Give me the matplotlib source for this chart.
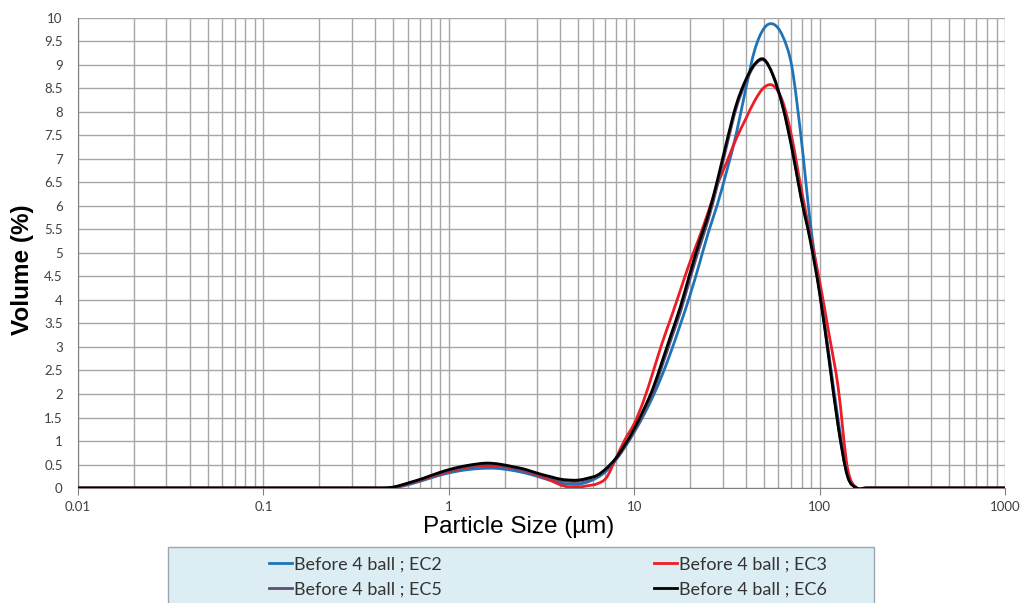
import numpy as np
import matplotlib.pyplot as plt
from matplotlib.path import Path
from matplotlib.patches import PathPatch, Rectangle
from matplotlib.lines import Line2D
from matplotlib.font_manager import FontProperties
from matplotlib.ticker import LogLocator, NullFormatter, FixedLocator

# particle size classes (um), same grid for every sample
size = [0.01, 0.398, 0.447, 0.501, 0.562, 0.631, 0.708, 0.794, 0.891, 1.0, 1.122,
        1.259, 1.413, 1.585, 1.778, 1.995, 2.239, 2.512, 2.818, 3.162, 3.548,
        3.981, 4.467, 5.012, 5.623, 6.310, 7.079, 7.943, 8.913, 10.0, 11.22,
        12.59, 14.13, 15.85, 17.78, 19.95, 22.39, 25.12, 28.18, 31.62, 35.48,
        39.81, 44.67, 50.12, 56.23, 63.10, 70.79, 79.43, 89.13, 100.0, 112.2,
        125.9, 141.3, 158.5, 177.8, 1000.0]

ec2 = [0, 0, 0, 0.0, 0.04, 0.09, 0.15, 0.21, 0.27, 0.32, 0.36,
       0.39, 0.41, 0.42, 0.42, 0.40, 0.37, 0.33, 0.28, 0.22, 0.16,
       0.11, 0.08, 0.08, 0.13, 0.22, 0.36, 0.59, 0.87, 1.19, 1.54,
       1.94, 2.40, 2.92, 3.49, 4.09, 4.75, 5.44, 6.05, 6.76, 7.53,
       8.46, 9.32, 9.78, 9.87, 9.62, 8.97, 7.46, 5.63, 4.20, 2.85,
       1.45, 0.30, 0, 0, 0]

ec3 = [0, 0, 0, 0.01, 0.05, 0.11, 0.17, 0.23, 0.29, 0.35, 0.40,
       0.44, 0.46, 0.47, 0.47, 0.45, 0.42, 0.38, 0.31, 0.24, 0.16,
       0.07, 0.02, 0.02, 0.05, 0.09, 0.22, 0.62, 1.03, 1.37, 1.85,
       2.45, 3.08, 3.64, 4.22, 4.80, 5.32, 5.88, 6.47, 6.94, 7.43,
       7.84, 8.24, 8.52, 8.56, 8.23, 7.46, 6.38, 5.38, 4.40, 3.29,
       2.14, 0.43, 0, 0, 0]

ec5 = [0, 0, 0, 0.01, 0.06, 0.12, 0.18, 0.25, 0.31, 0.37, 0.42,
       0.46, 0.49, 0.50, 0.50, 0.47, 0.43, 0.39, 0.33, 0.27, 0.21,
       0.16, 0.14, 0.14, 0.18, 0.25, 0.40, 0.61, 0.89, 1.21, 1.60,
       2.03, 2.60, 3.18, 3.76, 4.44, 5.10, 5.72, 6.47, 7.30, 8.08,
       8.62, 9.00, 9.10, 8.78, 8.14, 7.28, 6.20, 5.30, 4.18, 2.80,
       1.34, 0.27, 0, 0, 0]

ec6 = [0, 0, 0, 0.02, 0.07, 0.13, 0.19, 0.26, 0.33, 0.39, 0.44,
       0.48, 0.51, 0.53, 0.52, 0.49, 0.45, 0.41, 0.35, 0.29, 0.24,
       0.19, 0.17, 0.17, 0.21, 0.27, 0.42, 0.63, 0.92, 1.26, 1.66,
       2.11, 2.69, 3.28, 3.87, 4.56, 5.22, 5.82, 6.57, 7.39, 8.15,
       8.67, 9.02, 9.12, 8.76, 8.13, 7.23, 6.17, 5.25, 4.14, 2.75,
       1.31, 0.25, 0, 0, 0]

labels = ['Before 4 ball ; EC2', 'Before 4 ball ; EC3',
          'Before 4 ball ; EC5', 'Before 4 ball ; EC6']
colors = ['#1f74b8', '#ee1c25', '#5e4d70', '#000000']


def smooth_line(xs, ys):
    # smoothed line (like a spreadsheet "smoothed line"), bezier through the points
    lx = np.log10(xs)
    y = np.asarray(ys, dtype=float)
    n = len(lx)
    m = np.zeros(n)
    m[1:-1] = (y[2:] - y[:-2]) / (lx[2:] - lx[:-2])
    verts = [(lx[0], y[0])]
    codes = [Path.MOVETO]
    for i in range(n - 1):
        h = lx[i + 1] - lx[i]
        verts += [(lx[i] + h / 3, y[i] + m[i] * h / 3),
                  (lx[i + 1] - h / 3, y[i + 1] - m[i + 1] * h / 3),
                  (lx[i + 1], y[i + 1])]
        codes += [Path.CURVE4] * 3
    verts = np.array(verts)
    verts[:, 0] = 10 ** verts[:, 0]
    return Path(verts, codes)


fig = plt.figure(figsize=(10.22, 6.03), dpi=100)
ax = fig.add_axes([0.0763, 0.1907, 0.9071, 0.7795])

ax.set_xscale('log')
ax.set_xlim(0.01, 1000)
ax.set_ylim(0, 10)

handles = []
for y, c, lab in zip([ec2, ec3, ec5, ec6], colors, labels):
    patch = PathPatch(smooth_line(size, y), facecolor='none', edgecolor=c,
                      lw=2.0, transform=ax.transData, capstyle='round',
                      joinstyle='round', zorder=3)
    ax.add_patch(patch)
    handles.append(Line2D([], [], color=c, lw=2.0))

ax.xaxis.set_major_locator(FixedLocator([0.01, 0.1, 1, 10, 100, 1000]))
ax.set_xticklabels(['0.01', '0.1', '1', '10', '100', '1000'])
ax.xaxis.set_minor_locator(LogLocator(base=10, subs=np.arange(2, 10), numticks=20))
ax.xaxis.set_minor_formatter(NullFormatter())
ax.set_yticks(np.arange(0, 10.01, 0.5))
ax.set_yticklabels(['%g' % v for v in np.arange(0, 10.01, 0.5)])

ax.grid(True, which='both', axis='x', color='#a6a6a6', lw=1.0)
ax.grid(True, which='major', axis='y', color='#a6a6a6', lw=1.0)
ax.set_axisbelow(True)
ax.tick_params(axis='x', which='major', length=5, color='#808080', labelsize=9.5,
               labelcolor='#404040', pad=4)
ax.tick_params(axis='x', which='minor', length=0)
ax.tick_params(axis='y', length=0, labelsize=9.5, labelcolor='#404040', pad=11)
for lbl in ax.get_xticklabels() + ax.get_yticklabels():
    lbl.set_family('Lato')

for s in ['top', 'right']:
    ax.spines[s].set_visible(False)
for s in ['left', 'bottom']:
    ax.spines[s].set_color('#808080')

fig.text(0.507, 0.126, 'Particle Size (µm)', ha='center', va='center',
         fontsize=17.5, family='Liberation Sans')
fig.text(0.022, 0.552, 'Volume (%)', ha='center', va='center', rotation=90,
         fontsize=17.5, fontweight='bold', family='Liberation Sans')

# legend box (runs off the bottom edge like the original)
box = Rectangle((168 / 1022, -0.06), 706 / 1022, 0.06 + 1 - 547 / 603,
                transform=fig.transFigure, facecolor='#dcedf3',
                edgecolor='#9aa6ad', lw=1.0, zorder=0)
fig.patches.append(box)

# one legend per column so each column sits where the original has it
leg_font = FontProperties(family='Lato', size=13)
for cols, x0 in [([0, 2], 262), ([1, 3], 647)]:
    leg = fig.legend([handles[i] for i in cols], [labels[i] for i in cols],
                     loc='upper left', bbox_to_anchor=(x0 / 1022, 1 - 549 / 603),
                     frameon=False, prop=leg_font, handlelength=1.28,
                     handletextpad=0.1, labelspacing=0.5, borderaxespad=0)
    for t in leg.get_texts():
        t.set_color('#333333')

plt.savefig('out.png', dpi=100)
